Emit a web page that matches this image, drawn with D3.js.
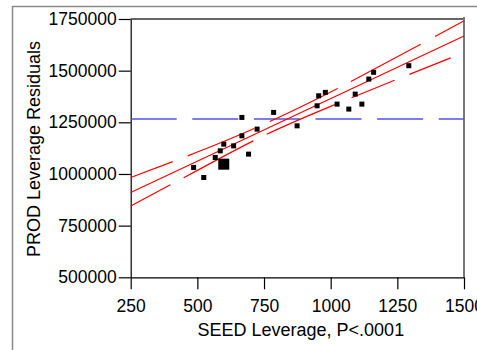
<!DOCTYPE html>
<html>
<head>
<meta charset="utf-8">
<script src="https://cdn.jsdelivr.net/npm/d3@7"></script>
<style>
  html, body { margin: 0; padding: 0; background: #fff; }
  svg { display: block; font-family: "Liberation Sans", Arial, sans-serif; }
</style>
</head>
<body>
<svg id="chart" width="477" height="350"></svg>
<script>
// Leverage plot: PROD residuals against SEED leverage
const seedLeverage = [486, 524, 599, 567, 586, 599, 636, 667, 692, 667, 724, 786,
                      874, 949, 955, 980, 1024, 1068, 1092, 1117, 1143, 1161, 1293];
const prodResiduals = [1031500, 983000, 1047500, 1080000, 1112000, 1144400, 1136000,
                       1184600, 1096000, 1273700, 1217000, 1298000, 1233000, 1330000,
                       1378400, 1395000, 1338000, 1314000, 1386600, 1338000, 1459300,
                       1492000, 1524000];
// the heavy point is drawn with a larger marker
const markerWeight = [1, 1, 2, 1, 1, 1, 1, 1, 1, 1, 1, 1, 1, 1, 1, 1, 1, 1, 1, 1, 1, 1, 1];

// fitted line and confidence curves
const fitX = [250, 1500];
const fitY = [910400, 1667600];
const bandX = [250, 500, 750, 1000, 1250, 1500];
const bandUpper = [983000, 1106100, 1241300, 1396800, 1566900, 1741300];
const bandLower = [845400, 1017400, 1185600, 1327000, 1458800, 1587200];
const meanResidual = 1266000;

const xTicks = [250, 500, 750, 1000, 1250, 1500];
const yTicks = [500000, 750000, 1000000, 1250000, 1500000, 1750000];
const xTitle = "SEED Leverage, P<.0001";
const yTitle = "PROD Leverage Residuals";

const svg = d3.select("#chart");
const plotLeft = 130.7, plotRight = 464, plotTop = 19, plotBottom = 277.3;

const x = d3.scaleLinear().domain([250, 1500]).range([plotLeft, plotRight]);
const y = d3.scaleLinear().domain([500000, 1750000]).range([plotBottom, plotTop]);

// outer report frame
svg.append("path")
  .attr("d", `M12.5,350 V6.5 H477`)
  .attr("fill", "none")
  .attr("stroke", "#8a8a8a")
  .attr("stroke-width", 1.5);

// plot frame (top and right)
svg.append("line")
  .attr("x1", plotLeft).attr("x2", plotRight).attr("y1", plotTop).attr("y2", plotTop)
  .attr("stroke", "#333").attr("stroke-width", 1.5);
svg.append("line")
  .attr("x1", plotRight).attr("x2", plotRight).attr("y1", plotTop - 2).attr("y2", plotBottom)
  .attr("stroke", "#777").attr("stroke-width", 2);

// axes
const xAxis = d3.axisBottom(x).tickValues(xTicks).tickSize(12).tickSizeOuter(0).tickPadding(4)
  .tickFormat(d3.format("d"));
const yAxis = d3.axisLeft(y).tickValues(yTicks).tickSize(12).tickSizeOuter(0).tickPadding(2)
  .tickFormat(d3.format("d"));

const gx = svg.append("g").attr("transform", `translate(0,${plotBottom})`).call(xAxis);
const gy = svg.append("g").attr("transform", `translate(${plotLeft},0)`).call(yAxis);
[gx, gy].forEach(g => {
  g.select(".domain").attr("stroke", "#000").attr("stroke-width", 1.2);
  g.selectAll(".tick line").attr("stroke", "#000").attr("stroke-width", 1.2);
  g.selectAll(".tick text").attr("fill", "#000")
    .attr("font-size", 17.5).attr("font-family", "Liberation Sans, Arial, sans-serif");
});
gx.selectAll(".tick text").attr("dy", "1.05em");

// axis titles
svg.append("text")
  .attr("x", 197.5).attr("y", 335.5)
  .attr("font-size", 18).attr("fill", "#000")
  .text(xTitle);
svg.append("text")
  .attr("transform", "translate(39.5,257) rotate(-90)")
  .attr("font-size", 18).attr("fill", "#000")
  .text(yTitle);

// mean reference line
svg.append("line")
  .attr("x1", x(250)).attr("x2", x(1500))
  .attr("y1", y(meanResidual)).attr("y2", y(meanResidual))
  .attr("stroke", "#5252e6").attr("stroke-width", 1.5)
  .attr("stroke-dasharray", "46,15.6");

// fit line
const line = d3.line().x(d => x(d[0])).y(d => y(d[1]));
svg.append("path")
  .attr("d", line(d3.zip(fitX, fitY)))
  .attr("fill", "none").attr("stroke", "#ff0000").attr("stroke-width", 1.2);

// confidence curves
const curve = d3.line().x(d => x(d[0])).y(d => y(d[1])).curve(d3.curveNatural);
svg.append("path")
  .attr("d", curve(d3.zip(bandX, bandUpper)))
  .attr("fill", "none").attr("stroke", "#ff0000").attr("stroke-width", 1.2)
  .attr("stroke-dasharray", "45,16,72,17,75.5,15,79,16.3,200");
svg.append("path")
  .attr("d", curve(d3.zip(bandX, bandLower)))
  .attr("fill", "none").attr("stroke", "#ff0000").attr("stroke-width", 1.2)
  .attr("stroke-dasharray", "45,15,78.7,15,78,14.4,46.4,16,44.5,30");

// points
const pts = d3.range(seedLeverage.length).map(i => ({
  sx: seedLeverage[i], py: prodResiduals[i], w: markerWeight[i]
}));
svg.append("g").selectAll("rect").data(pts).join("rect")
  .attr("x", d => x(d.sx) - (d.w > 1 ? 5.5 : 2.5))
  .attr("y", d => y(d.py) - (d.w > 1 ? 5.5 : 2.5))
  .attr("width", d => d.w > 1 ? 11 : 5)
  .attr("height", d => d.w > 1 ? 11 : 5)
  .attr("fill", "#000");
</script>
</body>
</html>
